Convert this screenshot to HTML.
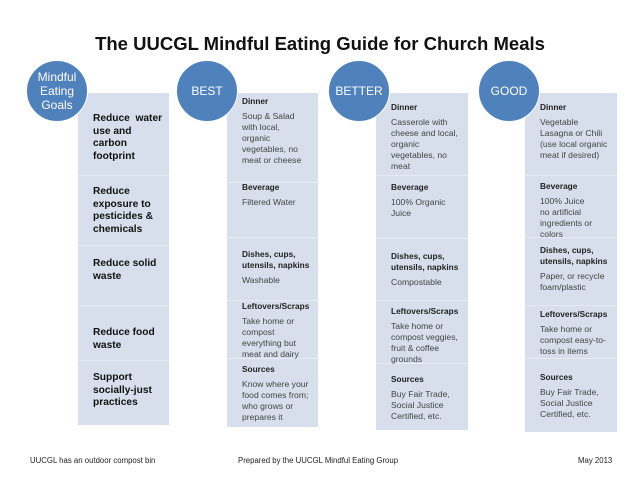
<!DOCTYPE html>
<html><head><meta charset="utf-8"><style>
body{margin:0;width:640px;height:495px;background:#fff;position:relative;overflow:hidden;font-family:"Liberation Sans",sans-serif;color:#333}
.r{position:absolute;background:#d6dfeb}
.d{position:absolute;height:1px;background:#e6ecf4}
.c{position:absolute;width:60px;height:60px;border-radius:50%;background:#4f81bd;border:1.5px solid #fff;color:#fff;display:flex;align-items:center;justify-content:center;text-align:center;font-size:12px;line-height:14px}
.t{position:absolute;font-size:8.6px;line-height:11px;color:#444}
.t b{color:#222;font-size:8.3px}
.g{position:absolute;font-size:10.2px;line-height:12.7px;font-weight:bold;color:#111}
.f{position:absolute;top:456px;font-size:7.8px;color:#222}
</style></head><body>
<div style="position:absolute;top:33px;left:0;width:640px;text-align:center;font-size:18.5px;font-weight:bold;color:#111">The UUCGL Mindful Eating Guide for Church Meals</div>

<div class="r" style="left:78px;top:93px;width:91px;height:332px"></div>
<div class="r" style="left:227px;top:93px;width:91px;height:334px"></div>
<div class="r" style="left:376px;top:93px;width:92px;height:337px"></div>
<div class="r" style="left:525px;top:93px;width:92px;height:339px"></div>

<div class="d" style="left:78px;width:91px;top:175px"></div><div class="d" style="left:78px;width:91px;top:245px"></div><div class="d" style="left:78px;width:91px;top:305px"></div><div class="d" style="left:78px;width:91px;top:360px"></div>
<div class="d" style="left:227px;width:91px;top:182px"></div><div class="d" style="left:227px;width:91px;top:237px"></div><div class="d" style="left:227px;width:91px;top:300px"></div><div class="d" style="left:227px;width:91px;top:358px"></div>
<div class="d" style="left:376px;width:92px;top:175px"></div><div class="d" style="left:376px;width:92px;top:238px"></div><div class="d" style="left:376px;width:92px;top:300px"></div><div class="d" style="left:376px;width:92px;top:363px"></div>
<div class="d" style="left:525px;width:92px;top:175px"></div><div class="d" style="left:525px;width:92px;top:237px"></div><div class="d" style="left:525px;width:92px;top:305px"></div><div class="d" style="left:525px;width:92px;top:358px"></div>

<div class="c" style="left:26px;top:60px">Mindful<br>Eating<br>Goals</div>
<div class="c" style="left:176px;top:60px">BEST</div>
<div class="c" style="left:328px;top:60px">BETTER</div>
<div class="c" style="left:478px;top:60px">GOOD</div>

<div class="g" style="left:93px;top:113px">Reduce&nbsp; water<br>use and<br>carbon<br>footprint</div>
<div class="g" style="left:93px;top:186px">Reduce<br>exposure to<br>pesticides &amp;<br>chemicals</div>
<div class="g" style="left:93px;top:258px">Reduce solid<br>waste</div>
<div class="g" style="left:93px;top:327px">Reduce food<br>waste</div>
<div class="g" style="left:93px;top:372px">Support<br>socially-just<br>practices</div>

<div class="t" style="left:242px;top:96px"><b>Dinner</b><div style="margin-top:4px">Soup &amp; Salad<br>with local,<br>organic<br>vegetables, no<br>meat or cheese</div></div>
<div class="t" style="left:242px;top:182px"><b>Beverage</b><div style="margin-top:4px">Filtered Water</div></div>
<div class="t" style="left:242px;top:249px"><b>Dishes, cups,<br>utensils, napkins</b><div style="margin-top:4px">Washable</div></div>
<div class="t" style="left:242px;top:301px"><b>Leftovers/Scraps</b><div style="margin-top:4px">Take home or<br>compost<br>everything but<br>meat and dairy</div></div>
<div class="t" style="left:242px;top:364px"><b>Sources</b><div style="margin-top:4px">Know where your<br>food comes from;<br>who grows or<br>prepares it</div></div>

<div class="t" style="left:391px;top:102px"><b>Dinner</b><div style="margin-top:4px">Casserole with<br>cheese and local,<br>organic<br>vegetables, no<br>meat</div></div>
<div class="t" style="left:391px;top:182px"><b>Beverage</b><div style="margin-top:4px">100% Organic<br>Juice</div></div>
<div class="t" style="left:391px;top:251px"><b>Dishes, cups,<br>utensils, napkins</b><div style="margin-top:4px">Compostable</div></div>
<div class="t" style="left:391px;top:306px"><b>Leftovers/Scraps</b><div style="margin-top:4px">Take home or<br>compost veggies,<br>fruit &amp; coffee<br>grounds</div></div>
<div class="t" style="left:391px;top:374px"><b>Sources</b><div style="margin-top:4px">Buy Fair Trade,<br>Social Justice<br>Certified, etc.</div></div>

<div class="t" style="left:540px;top:102px"><b>Dinner</b><div style="margin-top:4px">Vegetable<br>Lasagna or Chili<br>(use local organic<br>meat if desired)</div></div>
<div class="t" style="left:540px;top:181px"><b>Beverage</b><div style="margin-top:4px">100% Juice<br>no artificial<br>ingredients or<br>colors</div></div>
<div class="t" style="left:540px;top:245px"><b>Dishes, cups,<br>utensils, napkins</b><div style="margin-top:4px">Paper, or recycle<br>foam/plastic</div></div>
<div class="t" style="left:540px;top:309px"><b>Leftovers/Scraps</b><div style="margin-top:4px">Take home or<br>compost easy-to-<br>toss in items</div></div>
<div class="t" style="left:540px;top:372px"><b>Sources</b><div style="margin-top:4px">Buy Fair Trade,<br>Social Justice<br>Certified, etc.</div></div>

<div class="f" style="left:30px">UUCGL has an outdoor compost bin</div>
<div class="f" style="left:238px">Prepared by the UUCGL Mindful Eating Group</div>
<div class="f" style="left:578px">May 2013</div>
</body></html>
